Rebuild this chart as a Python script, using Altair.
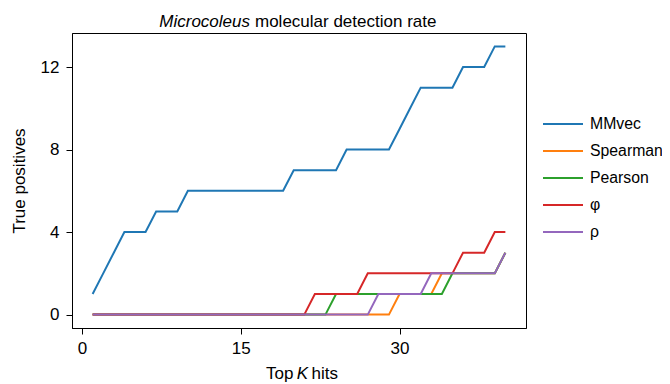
import altair as alt
import pandas as pd

# ---- data ----
k_hits = list(range(1, 41))
series_names = ["MMvec", "Spearman", "Pearson", "φ", "ρ"]
series_colors = ["#1f77b4", "#ff7f0e", "#2ca02c", "#d62728", "#9467bd"]

mmvec = [1, 2, 3, 4, 4, 4, 5, 5, 5, 6, 6, 6, 6, 6, 6, 6, 6, 6, 6, 7,
         7, 7, 7, 7, 8, 8, 8, 8, 8, 9, 10, 11, 11, 11, 11, 12, 12, 12, 13, 13]
spearman = [0, 0, 0, 0, 0, 0, 0, 0, 0, 0, 0, 0, 0, 0, 0, 0, 0, 0, 0, 0,
            0, 0, 0, 0, 0, 0, 0, 0, 0, 1, 1, 1, 1, 2, 2, 2, 2, 2, 2, 3]
pearson = [0, 0, 0, 0, 0, 0, 0, 0, 0, 0, 0, 0, 0, 0, 0, 0, 0, 0, 0, 0,
           0, 0, 0, 1, 1, 1, 1, 1, 1, 1, 1, 1, 1, 1, 2, 2, 2, 2, 2, 3]
phi = [0, 0, 0, 0, 0, 0, 0, 0, 0, 0, 0, 0, 0, 0, 0, 0, 0, 0, 0, 0,
       0, 1, 1, 1, 1, 1, 2, 2, 2, 2, 2, 2, 2, 2, 2, 3, 3, 3, 4, 4]
rho = [0, 0, 0, 0, 0, 0, 0, 0, 0, 0, 0, 0, 0, 0, 0, 0, 0, 0, 0, 0,
       0, 0, 0, 0, 0, 0, 0, 1, 1, 1, 1, 1, 2, 2, 2, 2, 2, 2, 2, 3]

x_ticks = [0, 15, 30]
y_ticks = [0, 4, 8, 12]

title_italic = "Microcoleus"
title_rest = "molecular detection rate"
xtitle_parts = ["Top", "K", "hits"]
ytitle = "True positives"

rows = []
for name, vals in zip(series_names, [mmvec, spearman, pearson, phi, rho]):
    for k, v in zip(k_hits, vals):
        rows.append({"k": k, "tp": v, "method": name})
df = pd.DataFrame(rows)

FONT = "Liberation Sans"
FS = 17

lines = alt.Chart(df).mark_line(strokeWidth=2).encode(
    x=alt.X(
        "k:Q",
        scale=alt.Scale(domain=[-0.95, 41.95], nice=False, zero=False),
        axis=alt.Axis(values=x_ticks, title=None, grid=False, tickSize=6,
                      labelPadding=6, labelFlush=False),
    ),
    y=alt.Y(
        "tp:Q",
        scale=alt.Scale(domain=[-0.65, 13.65], nice=False, zero=False),
        axis=alt.Axis(values=y_ticks, title=ytitle, grid=False, tickSize=6,
                      labelPadding=7, titleX=-47.7, titleY=147.5, titleAngle=270,
                      titleAlign="center", titleBaseline="alphabetic"),
    ),
    color=alt.Color(
        "method:N",
        sort=series_names,
        scale=alt.Scale(domain=series_names, range=series_colors),
        legend=alt.Legend(
            title=None, orient="none", legendX=480, legendY=80,
            symbolType="M-2,0H2", symbolSize=400, symbolStrokeWidth=2,
            rowPadding=8, labelOffset=16, padding=0,
            labelFont=FONT, labelFontSize=15.8, labelColor="black", labelLimit=300,
        ),
    ),
)


def label(text, x, y, align, italic=False):
    return alt.Chart(pd.DataFrame({"t": [text]})).mark_text(
        font=FONT, fontSize=FS, fontStyle="italic" if italic else "normal",
        align=align, baseline="alphabetic", color="black",
    ).encode(text="t:N", x=alt.value(x), y=alt.value(y))


texts = [
    label(title_italic, 178, -6.5, "right", italic=True),
    label(title_rest, 183, -6.5, "left"),
    label(xtitle_parts[0], 221.5, 345.5, "right"),
    label(xtitle_parts[1], 230.5, 345.5, "center", italic=True),
    label(xtitle_parts[2], 239.5, 345.5, "left"),
]

chart = alt.layer(lines, *texts).properties(
    width=454,
    height=295,
    background="white",
    autosize=alt.AutoSizeParams(type="none"),
    padding={"left": 64, "top": 25, "right": 136, "bottom": 56},
).configure_view(
    stroke="black", strokeWidth=1,
).configure_axis(
    labelFont=FONT, labelFontSize=FS, labelColor="black",
    titleFont=FONT, titleFontSize=FS, titleColor="black", titleFontWeight="normal",
    tickColor="black", domainColor="black", tickWidth=1, domainWidth=1,
)

chart.save("out.html", embed_options={"renderer": "svg", "actions": False})
